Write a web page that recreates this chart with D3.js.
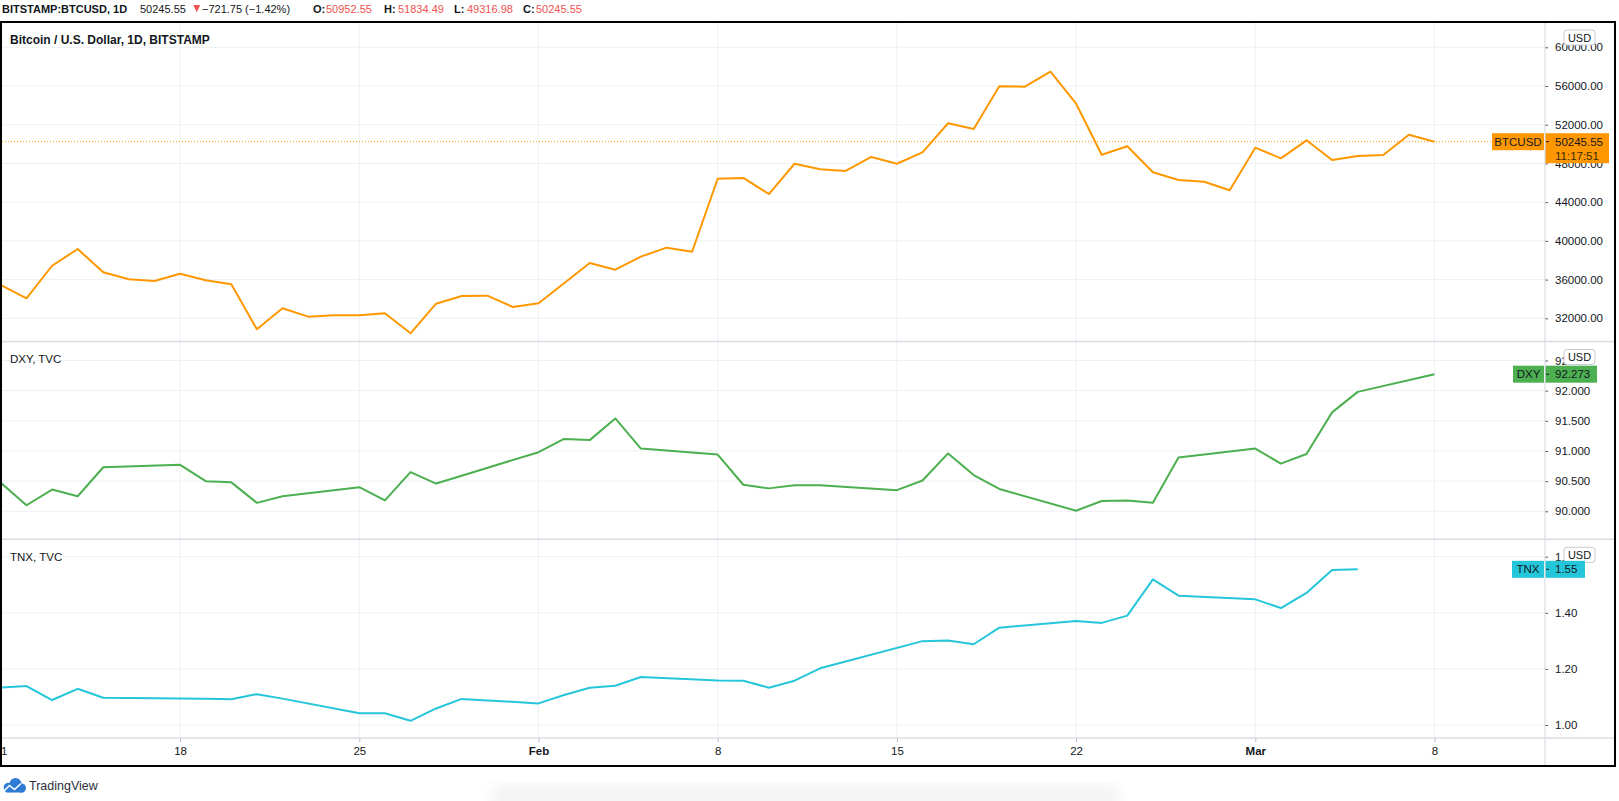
<!DOCTYPE html>
<html>
<head>
<meta charset="utf-8">
<script src="https://cdn.jsdelivr.net/npm/d3@7"></script>
<style>
  body { margin: 0; background: #fff; }
  svg text { font-family: "Liberation Sans", Arial, sans-serif; }
</style>
</head>
<body>
<svg id="chart" width="1619" height="801"></svg>
<script>
// ---- data (daily closes) ----
const btcStart = '2021-01-11';
const btcClose = [
  35440, 34070, 37430, 39160, 36750, 36030, 35860, 36610, 35930, 35510,
  30870, 33040, 32170, 32310, 32310, 32520, 30450, 33510, 34310, 34340,
  33170, 33550, 35620, 37710, 37020, 38370, 39300, 38880, 46420, 46500,
  44840, 47970, 47400, 47220, 48670, 47970, 49150, 52150, 51560, 55970,
  55930, 57480, 54170, 48900, 49770, 47090, 46290, 46110, 45230, 49630,
  48530, 50390, 48360, 48770, 48870, 50970, 50245.55
];

const dxyDates = [
  '2021-01-11', '2021-01-12', '2021-01-13', '2021-01-14', '2021-01-15',
  '2021-01-18', '2021-01-19', '2021-01-20', '2021-01-21', '2021-01-22',
  '2021-01-25', '2021-01-26', '2021-01-27', '2021-01-28', '2021-01-29',
  '2021-02-01', '2021-02-02', '2021-02-03', '2021-02-04', '2021-02-05',
  '2021-02-08', '2021-02-09', '2021-02-10', '2021-02-11', '2021-02-12',
  '2021-02-15', '2021-02-16', '2021-02-17', '2021-02-18', '2021-02-19',
  '2021-02-22', '2021-02-23', '2021-02-24', '2021-02-25', '2021-02-26',
  '2021-03-01', '2021-03-02', '2021-03-03', '2021-03-04', '2021-03-05',
  '2021-03-08'
];
const dxyClose = [
  90.47, 90.10, 90.36, 90.25, 90.73,
  90.77, 90.50, 90.48, 90.14, 90.25,
  90.40, 90.18, 90.65, 90.46, 90.59,
  90.98, 91.20, 91.18, 91.54, 91.04,
  90.94, 90.44, 90.38, 90.43, 90.43,
  90.35, 90.51, 90.96, 90.60, 90.37,
  90.01, 90.17, 90.18, 90.14, 90.89,
  91.04, 90.79, 90.95, 91.64, 91.98,
  92.273
];

const tnxDates = [
  '2021-01-11', '2021-01-12', '2021-01-13', '2021-01-14', '2021-01-15',
  '2021-01-19', '2021-01-20', '2021-01-21', '2021-01-22',
  '2021-01-25', '2021-01-26', '2021-01-27', '2021-01-28', '2021-01-29',
  '2021-02-01', '2021-02-02', '2021-02-03', '2021-02-04', '2021-02-05',
  '2021-02-08', '2021-02-09', '2021-02-10', '2021-02-11', '2021-02-12',
  '2021-02-16', '2021-02-17', '2021-02-18', '2021-02-19',
  '2021-02-22', '2021-02-23', '2021-02-24', '2021-02-25', '2021-02-26',
  '2021-03-01', '2021-03-02', '2021-03-03', '2021-03-04', '2021-03-05'
];
const tnxClose = [
  1.133, 1.139, 1.089, 1.129, 1.097,
  1.094, 1.092, 1.110, 1.094,
  1.042, 1.042, 1.015, 1.059, 1.093,
  1.077, 1.107, 1.133, 1.140, 1.171,
  1.159, 1.158, 1.133, 1.158, 1.202,
  1.299, 1.301, 1.288, 1.347,
  1.371, 1.364, 1.390, 1.519, 1.461,
  1.448, 1.417, 1.471, 1.553, 1.555
];

const btcTicks = [32000, 36000, 40000, 44000, 48000, 52000, 56000, 60000];
const dxyTicks = [90, 90.5, 91, 91.5, 92, 92.5];
const tnxTicks = [1.0, 1.2, 1.4, 1.6];
const weekTicks = ['2021-01-11', '2021-01-18', '2021-01-25', '2021-02-01', '2021-02-08',
                   '2021-02-15', '2021-02-22', '2021-03-01', '2021-03-08'];

const headerParts = [
  {text: 'BITSTAMP:BTCUSD, 1D', x: 2, bold: true},
  {text: '50245.55', x: 140},
  {text: '\u2212721.75 (\u22121.42%)', x: 202},
  {text: 'O:', x: 313, bold: true}, {text: '50952.55', x: 326, red: true},
  {text: 'H:', x: 384, bold: true}, {text: '51834.49', x: 398, red: true},
  {text: 'L:', x: 454, bold: true}, {text: '49316.98', x: 467, red: true},
  {text: 'C:', x: 523, bold: true}, {text: '50245.55', x: 536, red: true}
];

// ---- layout ----
const parse = d3.utcParse('%Y-%m-%d');
const plotLeft = 2, plotRight = 1545, outerRight = 1615;
const frameTop = 22, timeAxisY = 738, frameBottom = 766;
const sep1 = 341.5, sep2 = 539.3;
const gridColor = '#eef0f4', sepColor = '#d9dce3', textColor = '#131722', red = '#ef5350';

const svg = d3.select('#chart');

const x = d3.scaleUtc()
    .domain([parse('2021-01-11'), parse('2021-03-08')])
    .range([0.9, 1434.5]);

const btcData = btcClose.map((v, i) => ({date: d3.utcDay.offset(parse(btcStart), i), value: v}));
const dxyData = dxyDates.map((d, i) => ({date: parse(d), value: dxyClose[i]}));
const tnxData = tnxDates.map((d, i) => ({date: parse(d), value: tnxClose[i]}));

const panes = [
  {key: 'btc', top: frameTop, bottom: sep1, data: btcData, color: '#ff9800', ticks: btcTicks,
   y: d3.scaleLinear().domain([32000, 60000]).range([318.3, 47.3]), fmt: d3.format('.2f'),
   title: 'Bitcoin / U.S. Dollar, 1D, BITSTAMP', bold: true, label: 'BTCUSD', labelX: 1492,
   valueText: d3.format('.2f'), valueW: 64},
  {key: 'dxy', top: sep1, bottom: sep2, data: dxyData, color: '#4caf50', ticks: dxyTicks,
   y: d3.scaleLinear().domain([90, 92.5]).range([511.3, 360.5]), fmt: d3.format('.3f'),
   title: 'DXY, TVC', label: 'DXY', labelX: 1513, valueText: d3.format('.3f'), valueW: 52},
  {key: 'tnx', top: sep2, bottom: timeAxisY, data: tnxData, color: '#26c6da', ticks: tnxTicks,
   y: d3.scaleLinear().domain([1.0, 1.6]).range([725, 556.7]), fmt: d3.format('.2f'),
   title: 'TNX, TVC', label: 'TNX', labelX: 1512, valueText: d3.format('.2f'), valueW: 40}
];

// header
const header = svg.append('text').attr('y', 12.5).attr('font-size', 11).attr('fill', textColor);
headerParts.forEach(p => {
  header.append('tspan')
      .attr('x', p.x)
      .attr('font-weight', p.bold ? 'bold' : null)
      .attr('fill', p.red ? red : textColor)
      .text(p.text);
});
svg.append('path').attr('d', 'M193.3,5 L200.2,5 L196.75,12.3 Z').attr('fill', red);

// vertical grid
svg.append('g').selectAll('line').data(weekTicks).join('line')
    .attr('x1', d => x(parse(d))).attr('x2', d => x(parse(d)))
    .attr('y1', frameTop).attr('y2', timeAxisY)
    .attr('stroke', gridColor);

panes.forEach(p => {
  const g = svg.append('g');

  g.append('clipPath').attr('id', 'clip-' + p.key)
    .append('rect').attr('x', plotLeft).attr('y', p.top)
    .attr('width', plotRight - plotLeft).attr('height', p.bottom - p.top);

  // horizontal grid
  g.append('g').selectAll('line').data(p.ticks).join('line')
      .attr('x1', plotLeft).attr('x2', plotRight)
      .attr('y1', d => p.y(d)).attr('y2', d => p.y(d))
      .attr('stroke', gridColor);

  const last = p.data[p.data.length - 1];
  const ly = p.y(last.value);

  if (p.key === 'btc') {
    g.append('line')
        .attr('x1', plotLeft).attr('x2', p.labelX)
        .attr('y1', ly).attr('y2', ly)
        .attr('stroke', p.color).attr('stroke-dasharray', '1,2');
  }

  g.append('path')
      .datum(p.data)
      .attr('clip-path', `url(#clip-${p.key})`)
      .attr('fill', 'none')
      .attr('stroke', p.color)
      .attr('stroke-width', 2)
      .attr('stroke-linejoin', 'round')
      .attr('d', d3.line().x(d => x(d.date)).y(d => p.y(d.value)));

  // title
  g.append('text')
      .attr('x', 10).attr('y', p.top + 21.5)
      .attr('font-size', p.bold ? 12 : 11.5)
      .attr('font-weight', p.bold ? 'bold' : null)
      .attr('fill', textColor)
      .text(p.title);

  // price axis
  const axis = svg.append('g')
      .attr('transform', `translate(${plotRight},0)`)
      .attr('color', textColor)
      .call(d3.axisRight(p.y).tickValues(p.ticks).tickFormat(p.fmt).tickSize(3).tickPadding(7));
  axis.select('.domain').remove();
  axis.selectAll('text').attr('font-size', 11.5).attr('font-family', '"Liberation Sans", Arial, sans-serif');
  axis.selectAll('line').attr('stroke', '#50535e');

  // USD badge
  svg.append('rect')
      .attr('x', 1564).attr('y', p.top + 8).attr('width', 31).attr('height', 15)
      .attr('rx', 3).attr('fill', '#fff').attr('stroke', '#c8cbd3');
  svg.append('text')
      .attr('x', 1579.5).attr('y', p.top + 19.5)
      .attr('text-anchor', 'middle').attr('font-size', 11).attr('fill', textColor)
      .text('USD');

  // last value labels
  const lab = svg.append('g');
  lab.append('rect')
      .attr('x', p.labelX).attr('y', ly - 8.5)
      .attr('width', plotRight - 1 - p.labelX).attr('height', 17)
      .attr('fill', p.color);
  lab.append('text')
      .attr('x', (p.labelX + plotRight - 1) / 2).attr('y', ly + 4)
      .attr('text-anchor', 'middle').attr('font-size', 11.5).attr('fill', textColor)
      .text(p.label);
  lab.append('rect')
      .attr('x', plotRight).attr('y', ly - 8.5)
      .attr('width', p.valueW).attr('height', p.key === 'btc' ? 30 : 17)
      .attr('fill', p.color);
  lab.append('line')
      .attr('x1', plotRight + 1).attr('x2', plotRight + 4)
      .attr('y1', ly).attr('y2', ly)
      .attr('stroke', textColor);
  lab.append('text')
      .attr('x', 1555).attr('y', ly + 4)
      .attr('font-size', 11.5).attr('fill', textColor)
      .text(p.valueText(last.value));
  if (p.key === 'btc') {
    lab.append('text')
        .attr('x', 1555).attr('y', ly + 18)
        .attr('font-size', 11.5).attr('fill', '#3a2a00')
        .text('11:17:51');
  }
});

// time axis (clipped to the plot width, so the first label is cut by the frame)
const fmtTick = d => d.getUTCDate() === 1 ? d3.utcFormat('%b')(d) : d3.utcFormat('%-d')(d);
svg.append('clipPath').attr('id', 'clip-time')
  .append('rect').attr('x', plotLeft).attr('y', timeAxisY)
  .attr('width', plotRight - plotLeft).attr('height', frameBottom - timeAxisY);
const tAxis = svg.append('g')
    .attr('clip-path', 'url(#clip-time)')
  .append('g')
    .attr('transform', `translate(0,${timeAxisY})`)
    .attr('color', textColor)
    .call(d3.axisBottom(x).tickValues(weekTicks.map(parse)).tickFormat(fmtTick).tickSize(4).tickPadding(5));
tAxis.select('.domain').remove();
tAxis.selectAll('line').attr('stroke', '#b2b5be');
tAxis.selectAll('text')
    .attr('font-size', 11.5)
    .attr('font-family', '"Liberation Sans", Arial, sans-serif')
    .attr('font-weight', d => d.getUTCDate() === 1 ? 'bold' : null);

// separators
svg.append('g').selectAll('line').data([sep1, sep2, timeAxisY]).join('line')
    .attr('x1', plotLeft).attr('x2', outerRight)
    .attr('y1', d => d).attr('y2', d => d)
    .attr('stroke', sepColor).attr('stroke-width', 1.5);
svg.append('line')
    .attr('x1', plotRight).attr('x2', plotRight)
    .attr('y1', frameTop).attr('y2', frameBottom)
    .attr('stroke', sepColor).attr('stroke-width', 1.2);

// outer frame
svg.append('rect')
    .attr('x', 1).attr('y', frameTop).attr('width', outerRight - 1).attr('height', frameBottom - frameTop)
    .attr('fill', 'none').attr('stroke', '#000').attr('stroke-width', 2);

// bottom shadow
const defs = svg.append('defs');
defs.append('filter').attr('id', 'blur').append('feGaussianBlur').attr('stdDeviation', 7);
svg.append('rect')
    .attr('x', 490).attr('y', 784).attr('width', 630).attr('height', 30).attr('rx', 14)
    .attr('fill', '#f4f4f4').attr('filter', 'url(#blur)');

// TradingView logo
const logo = svg.append('g');
logo.append('circle').attr('cx', 8.5).attr('cy', 787.5).attr('r', 4.8).attr('fill', '#2e7bd6');
logo.append('circle').attr('cx', 15.5).attr('cy', 784).attr('r', 6).attr('fill', '#2e7bd6');
logo.append('circle').attr('cx', 21.5).attr('cy', 788).attr('r', 4.5).attr('fill', '#2e7bd6');
logo.append('rect').attr('x', 5).attr('y', 787).attr('width', 19).attr('height', 5.5).attr('rx', 2).attr('fill', '#2e7bd6');
logo.append('polyline').attr('points', '4,791 9.5,785.5 14.5,789.5 21,783.5')
    .attr('fill', 'none').attr('stroke', '#fff').attr('stroke-width', 1.6);
svg.append('text')
    .attr('x', 29).attr('y', 790).attr('font-size', 12.5).attr('fill', '#2a2e39')
    .text('TradingView');
</script>
</body>
</html>
